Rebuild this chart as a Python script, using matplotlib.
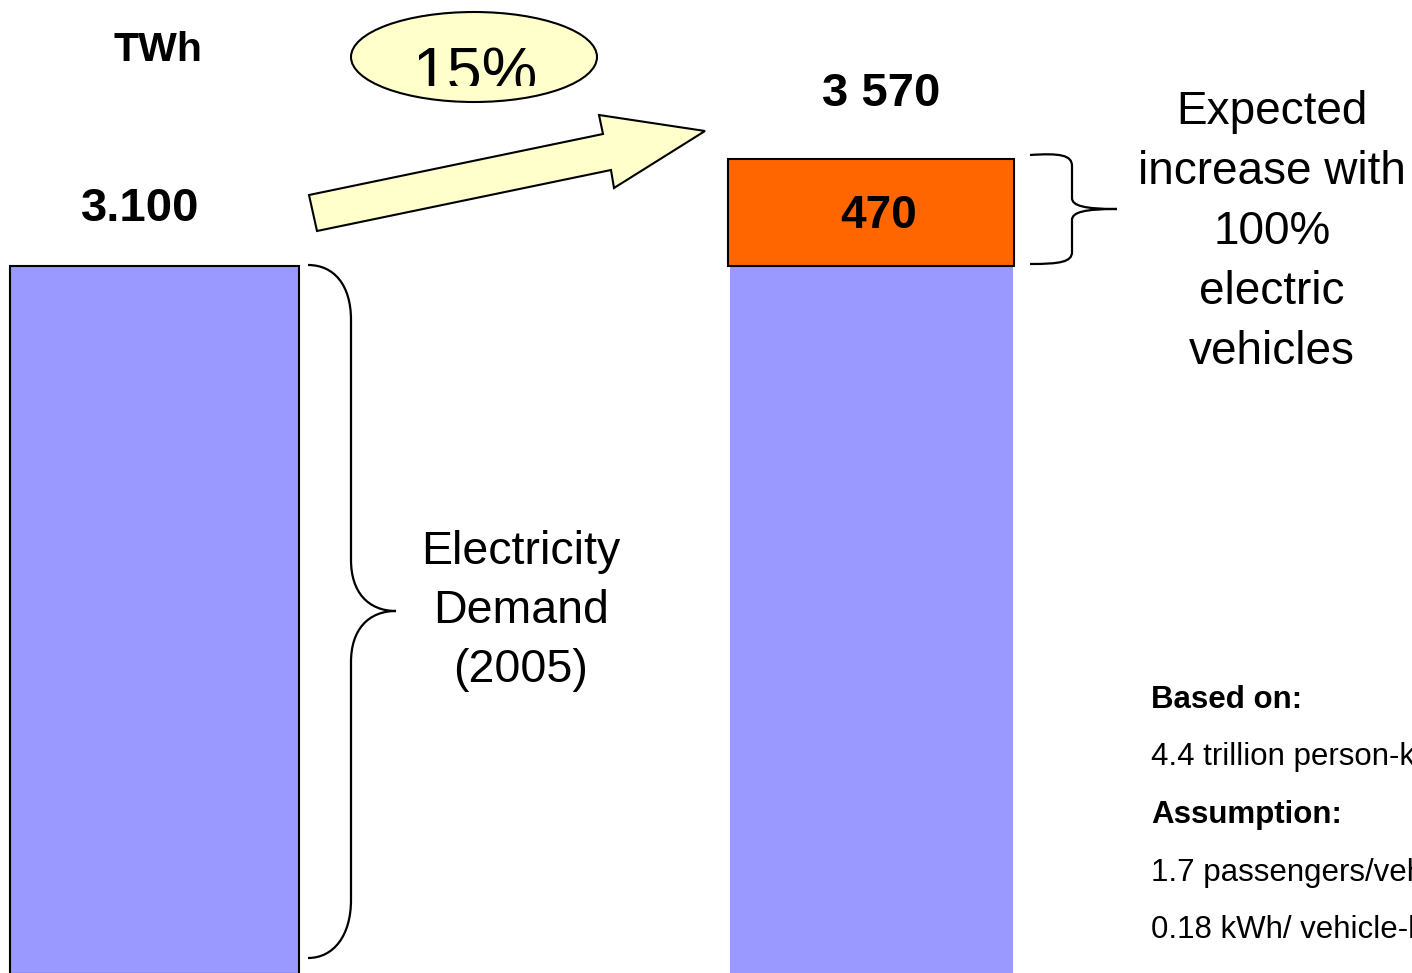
import matplotlib
matplotlib.use("Agg")
import matplotlib.pyplot as plt
from matplotlib.patches import Ellipse, Polygon, PathPatch, Rectangle
from matplotlib.path import Path
from matplotlib.transforms import Affine2D

# data
positions = [0, 1]
demand_2005 = [3100, 3100]
ev_increase = [0, 470]
total_labels = ["3.100", "3 570"]
increase_label = "470"
growth_label = "15%"
unit = "TWh"
left_note = ["Electricity", "Demand", "(2005)"]
right_note = ["Expected", "increase with", "100%", "electric", "vehicles"]
notes = [("Based on:", True), ("4.4 trillion person-km", False),
         ("Assumption:", True), ("1.7 passengers/vehicle", False),
         ("0.18 kWh/ vehicle-km", False)]

W, H = 1412, 973
blue = "#9999FF"
orange = "#FF6600"
yellow = "#FFFFCC"
font = "Liberation Sans"

fig = plt.figure(figsize=(W / 100, H / 100), dpi=100)
ax = fig.add_axes([0, 0, 1, 1])
ax.axis("off")
ax.set_xlim(-0.2156, 1.755)
ax.set_ylim(4, 4264)

# pixel coords measured from top-left
pix = Affine2D().scale(1 / W, -1 / H).translate(0, 1) + fig.transFigure

ax.bar(positions[0], demand_2005[0], width=0.403, color=blue,
       edgecolor="black", linewidth=1.5)
ax.bar(positions[1], demand_2005[1], width=0.395, color=blue, linewidth=0)
ax.bar(positions[1], ev_increase[1], bottom=demand_2005[1], width=0.40,
       color=orange, edgecolor="black", linewidth=1.5)

# bar labels
tot = [d + e for d, e in zip(demand_2005, ev_increase)]
ax.text(positions[0] - 0.02, tot[0] + 195, total_labels[0], ha="center",
        va="baseline", fontsize=34, fontweight="bold", family=font)
ax.text(positions[1] + 0.014, tot[1] + 230, total_labels[1], ha="center",
        va="baseline", fontsize=34, fontweight="bold", family=font)
ax.text(positions[1] + 0.01, demand_2005[1] + 165, increase_label, ha="center",
        va="baseline", fontsize=33, fontweight="bold", family=font)

ax.text(158, 61, unit, transform=pix, ha="center", va="baseline",
        fontsize=29.5, fontweight="bold", family=font)

# growth ellipse + arrow
fig.add_artist(Ellipse((474, 57), 246, 90, transform=pix, facecolor=yellow,
                       edgecolor="black", linewidth=1.5))
t = fig.text(475, 92, growth_label, transform=pix, ha="center", va="baseline",
             fontsize=45, family=font)
clip = Rectangle((300, 0), 400, 86, transform=pix)
t.set_clip_path(clip)
t.set_clip_on(True)

arrow_pts = [(317, 231), (309, 195), (603, 134), (599, 115), (705, 131),
             (614, 188), (611, 170)]
fig.add_artist(Polygon(arrow_pts, closed=True, transform=pix, facecolor=yellow,
                       edgecolor="black", linewidth=1.5))

# braces
C, L, M = Path.CURVE4, Path.LINETO, Path.MOVETO
lb = Path([(308, 265), (334, 265), (351, 285), (351, 320),
           (351, 560),
           (351, 592), (368, 611), (396, 611),
           (368, 611), (351, 630), (351, 662),
           (351, 900),
           (351, 935), (334, 958), (308, 958)],
          [M, C, C, C, L, C, C, C, C, C, C, L, C, C, C])
fig.add_artist(PathPatch(lb, transform=pix, facecolor="none",
                         edgecolor="black", linewidth=1.6))
rb = Path([(1030, 155), (1060, 153), (1072, 155), (1072, 166),
           (1072, 198),
           (1072, 206), (1085, 209), (1117, 209),
           (1085, 209), (1072, 212), (1072, 220),
           (1072, 252),
           (1072, 262), (1060, 264), (1030, 264)],
          [M, C, C, C, L, C, C, C, C, C, C, L, C, C, C])
fig.add_artist(PathPatch(rb, transform=pix, facecolor="none",
                         edgecolor="black", linewidth=1.6))

# annotations
for i, s in enumerate(left_note):
    fig.text(521, 564 + 59 * i, s, transform=pix, ha="center", va="baseline",
             fontsize=33.5, family=font)
for i, s in enumerate(right_note):
    fig.text(1272, 124 + 60 * i, s, transform=pix, ha="center", va="baseline",
             fontsize=33, family=font)
# the reference crops these lines at the right edge
for i, (s, b) in enumerate(notes):
    fig.text(1151, 708 + 57.5 * i, s, transform=pix, ha="left", va="baseline",
             fontsize=22.5, family=font, fontweight="bold" if b else "normal")

fig.savefig("out.png", dpi=100)
